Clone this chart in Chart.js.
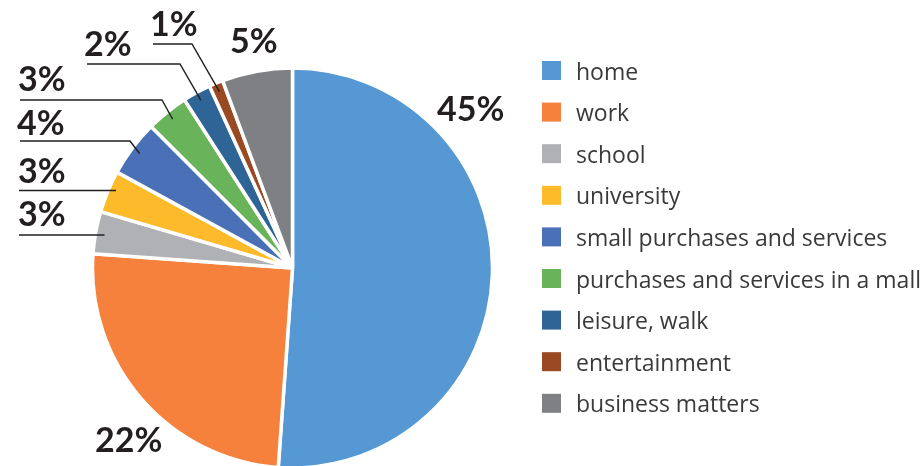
<!DOCTYPE html>
<html>
<head>
<meta charset="utf-8">
<script src="https://cdn.jsdelivr.net/npm/chart.js@4/dist/chart.umd.min.js"></script>
<style>
  html, body { margin: 0; padding: 0; background: #ffffff; overflow: hidden; }
  #wrap { position: relative; width: 924px; height: 466px; }
</style>
</head>
<body>
<div id="wrap"><canvas id="chart" width="924" height="466"></canvas></div>
<script>
// Trip purposes and their shares (percent)
const categories = [
  'home', 'work', 'school', 'university', 'small purchases and services',
  'purchases and services in a mall', 'leisure, walk', 'entertainment', 'business matters'
];
const shares = [45, 22, 3, 3, 4, 3, 2, 1, 5];
const sliceColors = [
  '#5698d3', '#f5813c', '#b0b1b4', '#fdbb2c', '#4a71b8',
  '#69b45b', '#2f6496', '#994a22', '#7f8083'
];

// Placement of the percentage labels and their leader lines (pixels)
const labelLayout = [
  { tx: 437, ty: 121 },                                   // home
  { tx: 95,  ty: 452 },                                   // work
  { tx: 18,  ty: 226, lx: 19,  ly: 235 },                 // school
  { tx: 18,  ty: 183, lx: 19,  ly: 190.5 },               // university
  { tx: 17,  ty: 135, lx: 20,  ly: 141, ex: 130 },        // small purchases
  { tx: 18,  ty: 91,  lx: 20,  ly: 100, ex: 162 },        // mall
  { tx: 84,  ty: 56,  lx: 87,  ly: 64,  ex: 180 },        // leisure
  { tx: 150, ty: 36,  lx: 153, ly: 44,  ex: 192 },        // entertainment
  { tx: 230, ty: 53 }                                     // business
];

const textColor = '#231f20';

const pieLabels = {
  id: 'pieLabels',
  afterDatasetsDraw(chart) {
    const ctx = chart.ctx;
    const meta = chart.getDatasetMeta(0);
    const values = chart.data.datasets[0].data;
    ctx.save();
    ctx.fillStyle = textColor;
    ctx.strokeStyle = textColor;
    ctx.lineWidth = 1.4;
    ctx.font = 'bold 34px Lato, "DejaVu Sans", sans-serif';
    ctx.textBaseline = 'alphabetic';
    ctx.textAlign = 'left';
    meta.data.forEach((arc, i) => {
      const L = labelLayout[i];
      ctx.fillText(values[i] + '%', L.tx, L.ty);
      if (L.ly === undefined) return;
      const p = arc.getProps(['x', 'y', 'startAngle', 'endAngle', 'outerRadius'], true);
      const mid = (p.startAngle + p.endAngle) / 2;
      const r = p.outerRadius * 0.955;
      const ax = p.x + Math.cos(mid) * r;
      const ay = p.y + Math.sin(mid) * r;
      ctx.beginPath();
      ctx.moveTo(L.lx, L.ly);
      if (L.ex !== undefined) {
        ctx.lineTo(L.ex, L.ly);
        ctx.lineTo(ax, ay);
      } else {
        ctx.lineTo(ax, L.ly);
      }
      ctx.stroke();
    });
    ctx.restore();
  }
};

const sideLegend = {
  id: 'sideLegend',
  afterDraw(chart) {
    const ctx = chart.ctx;
    const ds = chart.data.datasets[0];
    ctx.save();
    ctx.font = '23px "Open Sans", Lato, sans-serif';
    ctx.textBaseline = 'alphabetic';
    ctx.textAlign = 'left';
    chart.data.labels.forEach((lab, i) => {
      const top = 61 + i * 41.6;
      ctx.fillStyle = ds.backgroundColor[i];
      ctx.fillRect(542, top, 19, 19);
      ctx.fillStyle = '#3a3a3c';
      ctx.fillText(lab, 576, top + 18.5);
    });
    ctx.restore();
  }
};

new Chart(document.getElementById('chart'), {
  type: 'pie',
  data: {
    labels: categories,
    datasets: [{
      data: shares,
      backgroundColor: sliceColors,
      borderColor: '#ffffff',
      borderWidth: 3.5,
      radius: 200,
      clip: false
    }]
  },
  options: {
    responsive: false,
    animation: false,
    layout: { padding: { left: 0, right: 339, top: 70, bottom: 0 } },
    plugins: {
      legend: { display: false },
      tooltip: { enabled: false }
    }
  },
  plugins: [pieLabels, sideLegend]
});
</script>
</body>
</html>
